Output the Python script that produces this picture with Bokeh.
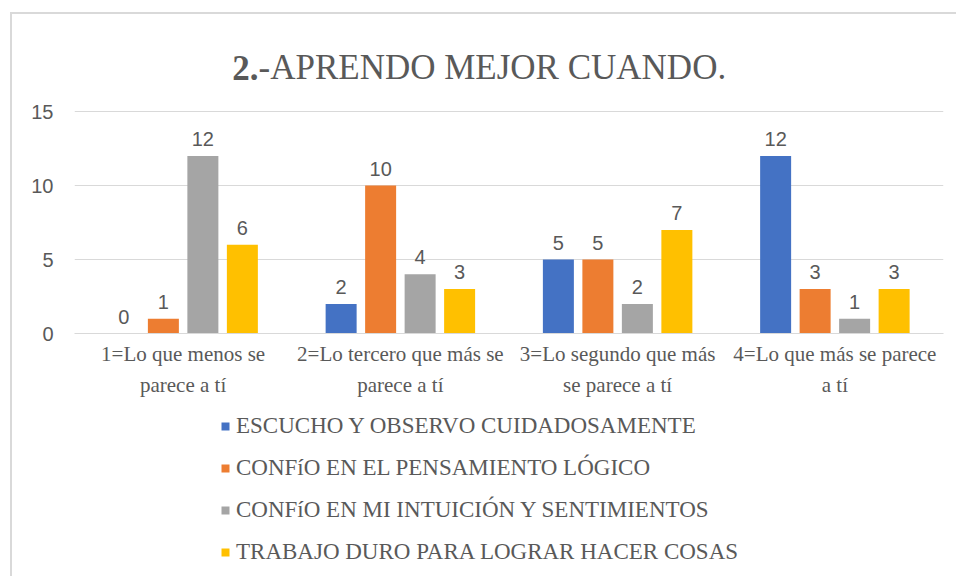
from bokeh.plotting import figure
from bokeh.layouts import column
from bokeh.models import FactorRange, Range1d, Legend, LegendItem, ColumnDataSource, FixedTicker
from bokeh.transform import dodge
from bokeh.core.properties import value
from bokeh.embed import file_html
from bokeh.resources import INLINE

# ---- data ----
categories = [
    "1=Lo que menos se\nparece a tí",
    "2=Lo tercero que más se\nparece a tí",
    "3=Lo segundo que más\nse parece a tí",
    "4=Lo que más se parece\na tí",
]
series_names = [
    "ESCUCHO Y OBSERVO CUIDADOSAMENTE",
    "CONFíO EN EL PENSAMIENTO LÓGICO",
    "CONFíO EN MI INTUICIÓN Y SENTIMIENTOS",
    "TRABAJO DURO PARA LOGRAR HACER COSAS",
]
escucho = [0, 2, 5, 12]
logico = [1, 10, 5, 3]
intuicion = [12, 4, 2, 1]
trabajo = [6, 3, 7, 3]
y_ticks = [0, 5, 10, 15]
title_bold = "2."
title_rest = "-APRENDO MEJOR CUANDO."

colors = ["#4472C4", "#ED7D31", "#A5A5A5", "#FFC000"]
series_values = [escucho, logico, intuicion, trabajo]
offsets = [-0.2727, -0.0909, 0.0909, 0.2727]
bar_w = 0.1427

TEXT = "#595959"
SERIF = "'Liberation Serif', 'Times New Roman', serif"
PX_PER_UNIT = 14.8  # frame: 0 at canvas 319, 15 at canvas 97

p = figure(
    x_range=FactorRange(*categories, range_padding=0),
    y_range=Range1d(0, 15 + 87 / PX_PER_UNIT),
    width=944, height=391,
    output_backend="svg", toolbar_location=None,
    min_border_left=62, min_border_right=13, min_border_top=10, min_border_bottom=72,
)
p.outline_line_color = None
p.xgrid.grid_line_color = None
p.ygrid.grid_line_color = "#d9d9d9"
p.ygrid.grid_line_width = 1
p.ygrid.ticker = FixedTicker(ticks=y_ticks)

p.yaxis.ticker = FixedTicker(ticks=y_ticks)
p.yaxis.axis_line_color = None
p.yaxis.major_tick_line_color = None
p.yaxis.minor_tick_line_color = None
p.yaxis.major_tick_out = 0
p.yaxis.major_label_standoff = 21
p.yaxis.major_label_text_font = "Liberation Sans"
p.yaxis.major_label_text_font_size = "20px"
p.yaxis.major_label_text_color = TEXT

p.xaxis.axis_line_color = "#d9d9d9"
p.xaxis.axis_line_width = 1
p.xaxis.major_tick_line_color = None
p.xaxis.minor_tick_line_color = None
p.xaxis.major_tick_out = 0
p.xaxis.major_label_standoff = 8
p.xaxis.major_label_text_font = "Liberation Serif"
p.xaxis.major_label_text_font_size = "21px"
p.xaxis.major_label_text_color = TEXT
p.xaxis.major_label_text_line_height = 1.3

for name, vals, col, off in zip(series_names, series_values, colors, offsets):
    src = ColumnDataSource(dict(cat=categories, val=vals, lab=[str(v) for v in vals]))
    p.vbar(x=dodge("cat", off, range=p.x_range), top="val", width=bar_w, bottom=0,
           source=src, fill_color=col, line_color=None)
    p.text(x=dodge("cat", off, range=p.x_range), y="val", text="lab", source=src,
           text_align="center", text_baseline="alphabetic", y_offset=-17,
           text_font=value("Liberation Sans"), text_font_size="20px", text_color=TEXT)

# title (two parts: bold number + normal text), placed above the plotted range
ty = (333 - 67) / PX_PER_UNIT
tx = 0.847
p.text(x=[tx], y=[ty], text=[title_bold], text_align="right", text_baseline="alphabetic",
       text_font=value(SERIF), text_font_size="35px", text_font_style="bold",
       text_color=TEXT)
p.text(x=[tx], y=[ty], text=[title_rest], text_align="left", text_baseline="alphabetic",
       text_font=value(SERIF), text_font_size="35px", text_color=TEXT)

# ---- legend strip ----
lg = figure(width=944, height=171, x_range=Range1d(0, 1), y_range=Range1d(0, 1),
            x_axis_type=None, y_axis_type=None, output_backend="svg", toolbar_location=None,
            min_border=0)
lg.outline_line_color = None
lg.grid.visible = False
items = []
for name, col in zip(series_names, colors):
    r = lg.vbar(x=[-5], top=[-5], bottom=[-6], width=0.1, fill_color=col, line_color=None)
    items.append(LegendItem(label=name, renderers=[r]))
legend = Legend(items=items, location=(146, 11), orientation="vertical",
                border_line_color=None, background_fill_alpha=0,
                glyph_width=10, glyph_height=10, label_height=25, spacing=16,
                padding=0, margin=0, label_standoff=6,
                label_text_font=SERIF, label_text_font_size="23px",
                label_text_color=TEXT)
lg.add_layout(legend, "center")

layout = column(p, lg, spacing=0,
                styles={"border-left": "2px solid #d9d9d9", "border-top": "2px solid #d9d9d9",
                        "margin-left": "10px", "margin-top": "12px"})

open("out.html", "w").write(file_html(layout, INLINE))
